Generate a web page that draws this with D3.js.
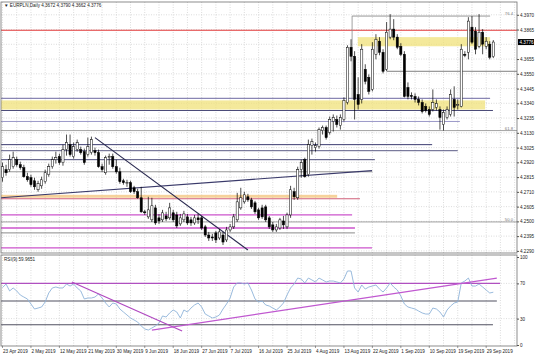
<!DOCTYPE html>
<html><head><meta charset="utf-8">
<script src="https://cdn.jsdelivr.net/npm/d3@7"></script>
<style>body{margin:0;background:#fff}svg{display:block}text{font-family:"Liberation Sans",Arial,sans-serif}</style>
</head><body><svg id="c" width="536" height="358"></svg>
<script>
// ---------- data ----------
const tickIdx = [0,8,16,24,32,40,48,56,64,72,80,88,96,104,112,120,128,136];
const tickLabels = ["23 Apr 2019","2 May 2019","12 May 2019","21 May 2019","30 May 2019","9 Jun 2019","18 Jun 2019","27 Jun 2019","7 Jul 2019","16 Jul 2019","25 Jul 2019","4 Aug 2019","13 Aug 2019","22 Aug 2019","1 Sep 2019","10 Sep 2019","19 Sep 2019","29 Sep 2019"];
const open = [4.2811,4.2868,4.2868,4.2889,4.2939,4.2903,4.2882,4.2818,4.2811,4.2789,4.2725,4.2753,4.2782,4.2832,4.2889,4.2939,4.2961,4.2918,4.3011,4.3046,4.2961,4.3011,4.3011,4.2996,4.2975,4.2989,4.3003,4.2989,4.2889,4.2846,4.2953,4.2961,4.2889,4.2853,4.2789,4.2768,4.2775,4.2739,4.2711,4.2668,4.2568,4.2532,4.2511,4.2596,4.2525,4.2511,4.2539,4.2525,4.2561,4.2546,4.2482,4.2511,4.2532,4.2511,4.2489,4.2525,4.2525,4.2461,4.2403,4.2389,4.2418,4.2382,4.2403,4.2368,4.2439,4.2461,4.2511,4.2596,4.2639,4.2675,4.2653,4.2632,4.2582,4.2596,4.2603,4.2525,4.2475,4.2439,4.2453,4.2503,4.2461,4.2546,4.2711,4.2668,4.2868,4.2939,4.2832,4.3039,4.3025,4.3032,4.3146,4.3168,4.3132,4.3211,4.3225,4.3182,4.3225,4.3346,4.3739,4.3675,4.3403,4.3368,4.3582,4.3525,4.3439,4.3689,4.3782,4.3703,4.3582,4.3811,4.3868,4.3811,4.3746,4.3689,4.3453,4.3396,4.3389,4.3368,4.3346,4.3318,4.3296,4.3296,4.3311,4.3296,4.3189,4.3239,4.3261,4.3368,4.3325,4.3318,4.3689,4.3703,4.3882,4.3853,4.3746,4.3846,4.3746,4.3761,4.3672];
const high = [4.2918,4.2903,4.2975,4.2996,4.2961,4.2925,4.2903,4.2846,4.2832,4.2811,4.2789,4.2818,4.2868,4.2911,4.2961,4.2996,4.2982,4.3046,4.3118,4.3118,4.3061,4.3082,4.3032,4.3018,4.3096,4.3103,4.3025,4.3011,4.2911,4.2968,4.2982,4.2982,4.2939,4.2882,4.2803,4.2796,4.2789,4.2753,4.2732,4.2746,4.2582,4.2675,4.2668,4.2618,4.2553,4.2582,4.2568,4.2632,4.2582,4.2568,4.2553,4.2575,4.2553,4.2532,4.2546,4.2553,4.2539,4.2475,4.2425,4.2411,4.2432,4.2446,4.2425,4.2461,4.2482,4.2553,4.2703,4.2739,4.2711,4.2696,4.2668,4.2646,4.2596,4.2618,4.2618,4.2539,4.2496,4.2482,4.2525,4.2539,4.2561,4.2753,4.2739,4.2889,4.2939,4.2953,4.3082,4.3089,4.3061,4.3168,4.3182,4.3182,4.3246,4.3261,4.3253,4.3261,4.3382,4.3753,4.3796,4.3711,4.3525,4.3761,4.3618,4.3546,4.3775,4.3832,4.3811,4.3725,4.3918,4.3975,4.3939,4.3832,4.3768,4.3711,4.3489,4.3418,4.3411,4.3389,4.3368,4.3339,4.3318,4.3439,4.3368,4.3318,4.3296,4.3318,4.3439,4.3461,4.3368,4.3761,4.3711,4.3953,4.3961,4.3882,4.3975,4.3868,4.3811,4.3782,4.3790];
const low = [4.2782,4.2825,4.2853,4.2875,4.2889,4.2868,4.2811,4.2782,4.2746,4.2725,4.2711,4.2732,4.2768,4.2818,4.2875,4.2911,4.2903,4.2896,4.2968,4.2961,4.2946,4.2996,4.2975,4.2903,4.2961,4.2975,4.2968,4.2882,4.2853,4.2832,4.2903,4.2875,4.2839,4.2768,4.2761,4.2746,4.2703,4.2696,4.2661,4.2561,4.2546,4.2518,4.2496,4.2475,4.2482,4.2496,4.2503,4.2511,4.2496,4.2453,4.2468,4.2496,4.2475,4.2468,4.2475,4.2482,4.2439,4.2389,4.2361,4.2361,4.2346,4.2368,4.2332,4.2353,4.2425,4.2446,4.2496,4.2582,4.2625,4.2639,4.2589,4.2553,4.2511,4.2518,4.2496,4.2446,4.2425,4.2425,4.2439,4.2446,4.2446,4.2525,4.2653,4.2653,4.2811,4.2811,4.2818,4.2975,4.2996,4.3018,4.3118,4.3082,4.3118,4.3139,4.3168,4.3153,4.3211,4.3332,4.3639,4.3225,4.3296,4.3339,4.3475,4.3403,4.3425,4.3653,4.3682,4.3553,4.3568,4.3796,4.3789,4.3725,4.3675,4.3382,4.3368,4.3368,4.3346,4.3325,4.3268,4.3275,4.3246,4.3282,4.3289,4.3153,4.3146,4.3225,4.3246,4.3246,4.3296,4.3311,4.3668,4.3653,4.3761,4.3689,4.3732,4.3689,4.3725,4.3653,4.3662];
const close = [4.2889,4.2846,4.2939,4.2953,4.2903,4.2882,4.2818,4.2796,4.2761,4.2746,4.2768,4.2796,4.2846,4.2889,4.2939,4.2953,4.2918,4.3011,4.3061,4.2975,4.3032,4.3061,4.2989,4.2918,4.3032,4.3082,4.2989,4.2889,4.2868,4.2953,4.2961,4.2889,4.2853,4.2782,4.2775,4.2775,4.2711,4.2711,4.2668,4.2568,4.2561,4.2582,4.2611,4.2489,4.2503,4.2561,4.2518,4.2596,4.2511,4.2468,4.2525,4.2553,4.2489,4.2489,4.2525,4.2511,4.2453,4.2403,4.2382,4.2382,4.2368,4.2425,4.2353,4.2439,4.2461,4.2532,4.2639,4.2668,4.2689,4.2653,4.2603,4.2568,4.2525,4.2532,4.2511,4.2461,4.2439,4.2461,4.2511,4.2475,4.2546,4.2725,4.2675,4.2868,4.2918,4.2818,4.3046,4.3068,4.3039,4.3153,4.3168,4.3096,4.3225,4.3239,4.3189,4.3239,4.3361,4.3739,4.3675,4.3368,4.3332,4.3725,4.3496,4.3425,4.3725,4.3796,4.3703,4.3568,4.3846,4.3868,4.3811,4.3739,4.3689,4.3389,4.3389,4.3389,4.3368,4.3346,4.3282,4.3289,4.3261,4.3346,4.3339,4.3239,4.3275,4.3296,4.3403,4.3311,4.3332,4.3725,4.3682,4.3925,4.3775,4.3725,4.3846,4.3761,4.3782,4.3668,4.3776];
const rsi = [65.3,69.3,61.4,64.8,61.4,56.8,54.5,52.3,46.6,40.9,42,43.2,48.9,59.1,64.8,65.9,64.8,64.8,69.3,67,69.3,64.8,61.4,52.3,53.4,53.4,54.5,58,53.4,47.7,43.2,47.7,46.6,40.9,37.5,34.1,30.7,28.4,26.1,21.6,18.2,17,19.3,21.6,25,33,31.8,36.4,39.8,37.5,30.7,39.8,37.5,42,45.5,47.7,43.2,35.2,33,30.7,31.8,34.1,40.9,46.6,53.4,65.9,70.5,70.5,69.3,70.5,62.5,52.3,48.9,50,45.5,44.3,42,39.8,43.2,47.7,56.8,64.8,69.3,76.1,75,70.5,76.1,73.9,71.6,76.1,73.9,71.6,72.7,72.7,71.6,70.5,75,84.1,84.1,64.8,60.2,68.2,63.6,65.9,67,68.2,63.6,60.2,64.8,70.5,65.9,62.5,55.7,46.6,43.2,42,40.9,38.6,36.4,35.2,35.2,42,40.9,37.5,31.8,39.8,44.3,47.7,48.9,70.5,72.7,76.1,67,67,69.3,65.9,62.5,59.1,59.9651];
const priceTicks = [4.2290,4.2395,4.2500,4.2605,4.2710,4.2815,4.2920,4.3025,4.3130,4.3235,4.3340,4.3445,4.3550,4.3655,4.3865,4.3970];
const rsiTicks = [0,30,70,100];
// drawn objects on price panel: [price, fromBar, toBar, colour, width]
const hLevels = [
  [4.3860,-1,145,"#e03a3a",1.1],
  [4.3961,98.3,137.1,"#8a8a8a",0.9],
  [4.3568,108.1,145,"#707070",0.9],
  [4.3375,-1,137.1,"#8a86b4",1.2],
  [4.3289,-1,137.9,"#4a4a78",1],
  [4.3211,-1,128.6,"#9a98c8",1],
  [4.3146,-1,145,"#8a8a8a",0.8],
  [4.3046,-1,120.8,"#3c3c70",1],
  [4.3003,-1,128.0,"#4a4a78",0.9],
  [4.2939,-1,104.7,"#4a4a78",1],
  [4.2853,-1,104,"#8a8a8a",0.9],
  [4.2661,-1,100.5,"#d0607a",1],
  [4.2546,-1,98.3,"#cc55cc",1.3],
  [4.2496,-1,145,"#8a8a8a",0.8],
  [4.2453,-1,99.1,"#cc55cc",1.3],
  [4.2418,-1,99.1,"#8a8a8a",1],
  [4.2311,-1,103.9,"#cc55cc",1.3]
];
// zones: [priceTop, priceBottom, fromBar, toBar, colour]
const zones = [
  [4.3811,4.3746,99.9,137.1,"#f0e27a"],
  [4.3361,4.3296,-1,135.7,"#f0e27a"],
  [4.2689,4.2668,-1,94.1,"#f3c37a"]
];
// trend lines: [bar0, price0, bar1, price1, colour]
const trends = [
  [-0.7,4.2668,103.9,4.2861,"#3a3a6a"],
  [26.0,4.3096,69.0,4.2296,"#2a2a50"]
];
const fibLabels = [[4.3961,"76.4"],[4.3146,"61.8"],[4.2496,"50.0"]];
// RSI panel objects
const rsiLevels = [[70,-1,139.9,"#b050c0",1.2],[50,-1,139,"#505060",1.1],[23,-1,137.9,"#505060",1.1]];
const rsiTrends = [[19.5,71.6,50.5,15.9,"#b048c0"],[42,17,139,76.1,"#c058d0"]];

// ---------- drawing ----------
const svg = d3.select("#c");
const W = 536, H = 358;
const L = 1, R = 517, mT = 2, mB = 253, rT = 255, rB = 346;
const x = d3.scaleLinear().domain([0,138]).range([2.5,493.3]);
const y = d3.scaleLinear().domain([4.2275,4.4061]).range([mB,mT]);
const yr = d3.scaleLinear().domain([0,100]).range([345,257]);

svg.append("rect").attr("width",W).attr("height",H).attr("fill","#fff");
const defs = svg.append("defs");
defs.append("clipPath").attr("id","cm").append("rect").attr("x",L).attr("y",mT).attr("width",R-L).attr("height",mB-mT);
defs.append("clipPath").attr("id","cr").append("rect").attr("x",L).attr("y",rT).attr("width",R-L).attr("height",rB-rT);

const gm = svg.append("g").attr("clip-path","url(#cm)");
const gr = svg.append("g").attr("clip-path","url(#cr)");

// grid
const gridBars = d3.range(0,146,4);
[gm,gr].forEach((g,k)=>{
  g.selectAll("line.vg").data(gridBars).join("line")
   .attr("x1",d=>x(d)).attr("x2",d=>x(d))
   .attr("y1",k?rT:mT).attr("y2",k?rB:mB)
   .attr("stroke","#c4c4c4").attr("stroke-width",0.6).attr("stroke-dasharray","1,1.5");
});
gm.selectAll("line.hg").data(priceTicks.concat([4.3760])).join("line")
  .attr("x1",L).attr("x2",R).attr("y1",d=>y(d)).attr("y2",d=>y(d))
  .attr("stroke","#c4c4c4").attr("stroke-width",0.6).attr("stroke-dasharray","1,1.5");
gr.selectAll("line.hg").data([30,70]).join("line")
  .attr("x1",L).attr("x2",R).attr("y1",d=>yr(d)).attr("y2",d=>yr(d))
  .attr("stroke","#c4c4c4").attr("stroke-width",0.6).attr("stroke-dasharray","1,1.5");

// zones
gm.selectAll("rect.z").data(zones).join("rect")
  .attr("x",d=>x(d[2])).attr("width",d=>x(d[3])-x(d[2]))
  .attr("y",d=>y(d[0])).attr("height",d=>y(d[1])-y(d[0]))
  .attr("fill",d=>d[4]).attr("opacity",0.75);
// levels
gm.selectAll("line.lv").data(hLevels).join("line")
  .attr("x1",d=>x(d[1])).attr("x2",d=>x(d[2]))
  .attr("y1",d=>y(d[0])).attr("y2",d=>y(d[0]))
  .attr("stroke",d=>d[3]).attr("stroke-width",d=>d[4]);
// fib vertical
gm.append("line").attr("x1",x(98.3)).attr("x2",x(98.3)).attr("y1",y(4.3961)).attr("y2",y(4.3368))
  .attr("stroke","#8a8a8a").attr("stroke-width",0.8);
gm.selectAll("line.tr").data(trends).join("line")
  .attr("x1",d=>x(d[0])).attr("y1",d=>y(d[1])).attr("x2",d=>x(d[2])).attr("y2",d=>y(d[3]))
  .attr("stroke",d=>d[4]).attr("stroke-width",1.1);
gm.selectAll("text.fib").data(fibLabels).join("text")
  .attr("x",513).attr("y",d=>y(d[0])-1).attr("text-anchor","end")
  .attr("font-size",4.2).attr("fill","#777").text(d=>d[1]);

// candles
const bars = d3.range(open.length);
gm.selectAll("line.wick").data(bars).join("line")
  .attr("x1",i=>x(i)).attr("x2",i=>x(i)).attr("y1",i=>y(high[i])).attr("y2",i=>y(low[i]))
  .attr("stroke","#000").attr("stroke-width",0.7);
gm.selectAll("rect.body").data(bars).join("rect")
  .attr("x",i=>x(i)-1.1).attr("width",2.2)
  .attr("y",i=>y(Math.max(open[i],close[i])))
  .attr("height",i=>Math.max(0.6,Math.abs(y(open[i])-y(close[i]))))
  .attr("fill",i=>close[i]>=open[i]?"#fff":"#000")
  .attr("stroke","#000").attr("stroke-width",0.5);

// RSI
gr.selectAll("line.rl").data(rsiLevels).join("line")
  .attr("x1",d=>x(d[1])).attr("x2",d=>x(d[2])).attr("y1",d=>yr(d[0])).attr("y2",d=>yr(d[0]))
  .attr("stroke",d=>d[3]).attr("stroke-width",d=>d[4]);
gr.append("path").datum(rsi)
  .attr("d",d3.line().x((d,i)=>x(i)).y(d=>yr(d)))
  .attr("fill","none").attr("stroke","#8fb3d9").attr("stroke-width",0.9);
gr.selectAll("line.rt").data(rsiTrends).join("line")
  .attr("x1",d=>x(d[0])).attr("y1",d=>yr(d[1])).attr("x2",d=>x(d[2])).attr("y2",d=>yr(d[3]))
  .attr("stroke",d=>d[4]).attr("stroke-width",1.2);

// frames
svg.append("rect").attr("x",L).attr("y",mT).attr("width",R-L).attr("height",mB-mT)
  .attr("fill","none").attr("stroke","#707070").attr("stroke-width",0.8);
svg.append("rect").attr("x",L).attr("y",rT).attr("width",R-L).attr("height",rB-rT)
  .attr("fill","none").attr("stroke","#707070").attr("stroke-width",0.8);

// price axis
const yAxis = d3.axisRight(y).tickValues(priceTicks).tickSize(2).tickFormat(d3.format(".4f"));
const ga = svg.append("g").attr("transform",`translate(${R},0)`).call(yAxis);
ga.select(".domain").remove();
ga.selectAll("text").attr("font-size",4.6).attr("fill","#222").attr("x",3);
ga.selectAll("line").attr("stroke","#555");
// current price tag
svg.append("rect").attr("x",R+1).attr("y",y(close[close.length-1])-3).attr("width",16).attr("height",6).attr("fill","#000");
svg.append("text").attr("x",R+2.5).attr("y",y(close[close.length-1])+1.7).attr("font-size",4.6).attr("fill","#fff")
  .text(d3.format(".4f")(close[close.length-1]));

const rAxis = d3.axisRight(yr).tickValues(rsiTicks).tickSize(2);
const gra = svg.append("g").attr("transform",`translate(${R},0)`).call(rAxis);
gra.select(".domain").remove();
gra.selectAll("text").attr("font-size",4.6).attr("fill","#222").attr("x",3);
gra.selectAll("line").attr("stroke","#555");

// time axis
const tg = svg.append("g");
tg.selectAll("text").data(tickIdx).join("text")
  .attr("x",(d)=>x(d)+0.5).attr("y",352.5).attr("font-size",4.6).attr("fill","#222")
  .text((d,k)=>tickLabels[k]);
tg.selectAll("line").data(tickIdx).join("line")
  .attr("x1",d=>x(d)).attr("x2",d=>x(d)).attr("y1",rB).attr("y2",rB+2).attr("stroke","#555").attr("stroke-width",0.6);

// headers
svg.append("text").attr("x",4).attr("y",7).attr("font-size",4.6).attr("fill","#222")
  .text("\u25BC EURPLN,Daily  "+[open,high,low,close].map(a=>d3.format(".4f")(a[a.length-1])).join(" "));
svg.append("text").attr("x",4).attr("y",261).attr("font-size",4.6).attr("fill","#222")
  .text("RSI(9) "+d3.format(".4f")(rsi[rsi.length-1]));
</script></body></html>
